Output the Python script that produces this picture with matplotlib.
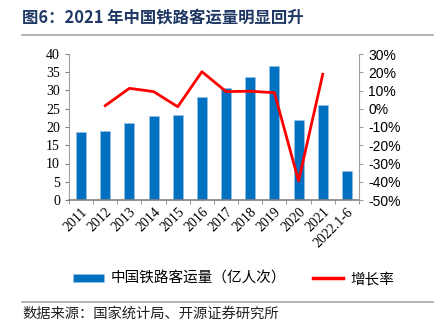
import matplotlib
matplotlib.use("Agg")
import matplotlib.pyplot as plt
from matplotlib.lines import Line2D
from matplotlib.patches import Patch

plt.rcParams['font.family'] = ['Noto Sans CJK SC', 'DejaVu Sans']

years = ["2011", "2012", "2013", "2014", "2015", "2016", "2017", "2018",
         "2019", "2020", "2021", "2022.1-6"]
passengers = [18.6, 18.9, 21.1, 23.0, 23.4, 28.1, 30.8, 33.7, 36.6, 22.0, 26.1, 7.9]
growth = [None, 1.7, 11.2, 9.4, 1.1, 20.3, 9.4, 9.6, 8.8, -39.6, 18.9, None]

fig = plt.figure(figsize=(4.39, 3.22), dpi=100)

# title + rules
fig.text(22 / 439, 1 - 17 / 322, "图6：2021 年中国铁路客运量明显回升", fontsize=11.8,
         fontweight='bold', color='#1F3864', va='center', ha='left')
fig.add_artist(Line2D([22 / 439, 433 / 439], [1 - 35 / 322] * 2, color='#A6A6A6', lw=1.2))
fig.add_artist(Line2D([22 / 439, 433 / 439], [1 - 302 / 322] * 2, color='#A6A6A6', lw=1.2))
fig.text(22 / 439, 1 - 314 / 322, "数据来源：国家统计局、开源证券研究所", fontsize=10.3,
         va='center', ha='left', color='#222222')

ax = fig.add_axes([69 / 439, 1 - 200 / 322, 290 / 439, 146 / 322])
x = list(range(len(years)))
ax.bar(x, passengers, width=0.42, color='#0070C0', edgecolor='#9DC3E6', linewidth=0.4)
ax.set_xlim(-0.5, len(years) - 0.5)
ax.set_ylim(0, 40)
ax.set_yticks(range(0, 41, 5))
ax.set_xticks(x)
ax.set_xticklabels(years, rotation=45, ha='right', rotation_mode='anchor',
                   family='Liberation Serif', fontsize=10)
ax.set_xticks([i - 0.5 for i in range(len(years) + 1)], minor=True)
ax.tick_params(axis='x', which='major', length=0, pad=4)
ax.tick_params(axis='x', which='minor', length=3, color='#808080', direction='out')
ax.tick_params(axis='y', length=3, color='#808080', labelsize=10)
for lab in ax.get_yticklabels():
    lab.set_family('Liberation Serif')
for s in ['top', 'right']:
    ax.spines[s].set_visible(False)
ax.spines['left'].set_color('#A0A0A0')
ax.spines['bottom'].set_color('#808080')
ax.spines['bottom'].set_linewidth(1.2)

ax2 = ax.twinx()
gx = [i for i, g in zip(x, growth) if g is not None]
gy = [g for g in growth if g is not None]
ax2.plot(gx, gy, color='#FF0000', lw=2)
ax2.set_ylim(-50, 30)
ax2.set_yticks(range(-50, 31, 10))
ax2.set_yticklabels([f"{v}%" for v in range(-50, 31, 10)], family='Liberation Sans', fontsize=10)
ax2.tick_params(axis='y', length=3, color='#A0A0A0')
for s in ['top', 'left', 'bottom']:
    ax2.spines[s].set_visible(False)
ax2.spines['right'].set_color('#A0A0A0')

handles = [Patch(facecolor='#0070C0', edgecolor='#9DC3E6', linewidth=0.4),
           Line2D([0], [0], color='#FF0000', lw=2.5)]
fig.legend(handles, ["中国铁路客运量（亿人次）", "增长率"], loc='center left',
           bbox_to_anchor=(73 / 439, 1 - 279 / 322), ncol=2, frameon=False, fontsize=10.5,
           handlelength=2.1, handleheight=0.5, columnspacing=1.8, handletextpad=0.5,
           borderpad=0, borderaxespad=0)

fig.savefig("out.png", dpi=100)
